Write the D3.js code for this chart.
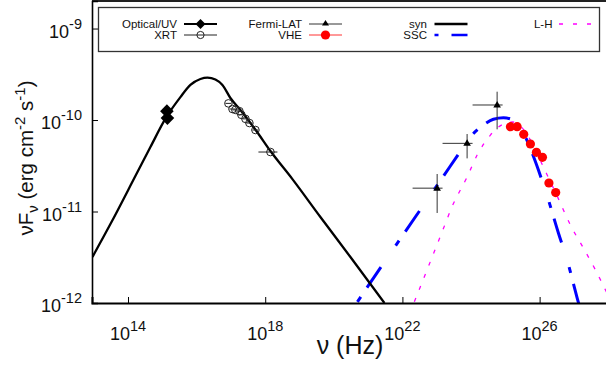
<!DOCTYPE html>
<html><head><meta charset="utf-8">
<script src="https://cdn.jsdelivr.net/npm/d3@7"></script>
<style>body{margin:0;background:#fff}svg{display:block}text{font-family:"Liberation Sans",Arial,sans-serif}</style>
</head><body><svg id="c" width="606" height="365"></svg>
<script>
// ---- data ----
const xTicks = [1e14, 1e18, 1e22, 1e26];
const xTickExp = ["14", "18", "22", "26"];
const yTicks = [1e-12, 1e-11, 1e-10, 1e-9];
const yTickExp = ["-12", "-11", "-10", "-9"];

const optNu = [1.36e15, 1.41e15];
const optF  = [1.25e-10, 1.05e-10];

const xrtNu   = [8.45e16, 1.11e17, 1.35e17, 1.77e17, 2.02e17, 2.65e17, 3.46e17, 5.18e17, 1.42e18];
const xrtNuLo = [6.9e16, 9.1e16, 1.11e17, 1.45e17, 1.66e17, 2.17e17, 2.84e17, 4.25e17, 6.34e17];
const xrtNuHi = [1.03e17, 1.35e17, 1.65e17, 2.16e17, 2.46e17, 3.23e17, 4.22e17, 6.32e17, 2.27e18];
const xrtF    = [1.52e-10, 1.32e-10, 1.29e-10, 1.25e-10, 1.14e-10, 1.03e-10, 9.27e-11, 7.78e-11, 4.47e-11];

const latNu   = [1.03e23, 7.69e23, 5.77e24];
const latNuLo = [1.98e22, 1.48e23, 1.11e24];
const latNuHi = [1.48e23, 1.11e24, 8.34e24];
const latF    = [1.80e-11, 5.56e-11, 1.46e-10];
const latFLo  = [9.64e-12, 3.81e-11, 7.91e-11];
const latFHi  = [2.57e-11, 7.03e-11, 2.04e-10];

const vheNu = [1.41e25, 2.21e25, 3.44e25, 5.40e25, 8.07e25, 1.21e26, 1.87e26, 2.94e26];
const vheF  = [8.45e-11, 8.45e-11, 6.98e-11, 5.47e-11, 4.44e-11, 3.91e-11, 2.05e-11, 1.61e-11];

const synNu = [9.16e12, 3.07e13, 1.64e14, 4.50e14, 1.32e15, 3.37e15, 6.59e15, 1.29e16, 2.07e16, 3.53e16, 5.65e16, 9.66e16, 1.89e17, 5.53e17, 1.42e18, 6.21e18, 4.06e19, 3.05e20, 2.99e21];
const synF  = [3.18e-12, 7.29e-12, 2.44e-11, 5.07e-11, 1.08e-10, 1.78e-10, 2.42e-10, 2.81e-10, 2.91e-10, 2.77e-10, 2.42e-10, 1.74e-10, 1.29e-10, 7.59e-11, 4.58e-11, 2.26e-11, 8.71e-12, 3.18e-12, 1.0e-12];

const sscNu = [4.88e20, 2.28e21, 8.75e21, 3.35e22, 1.28e23, 4.91e23, 9.62e23, 2.30e24, 4.50e24, 8.81e24, 1.41e25, 2.25e25, 3.37e25, 6.04e25, 9.23e25, 1.66e26, 3.53e26, 6.34e26, 1.24e27, 1.55e27];
const sscF  = [1.03e-12, 2.42e-12, 5.05e-12, 1.05e-11, 2.18e-11, 4.54e-11, 6.55e-11, 8.81e-11, 1.02e-10, 1.06e-10, 1.03e-10, 9.04e-11, 7.21e-11, 4.36e-11, 2.84e-11, 1.48e-11, 5.82e-12, 2.95e-12, 1.14e-12, 8.4e-13];

const lhNu = [2.23e22, 5.35e22, 1.47e23, 2.86e23, 7.69e23, 1.51e24, 3.68e24, 8.81e24, 1.61e25, 2.75e25, 5.40e25, 1.29e26, 3.24e26, 7.91e26, 1.89e27, 4.24e27, 8.87e27];
const lhF  = [1.03e-12, 2.35e-12, 6.12e-12, 1.15e-11, 2.38e-11, 4.14e-11, 6.85e-11, 9.04e-11, 9.51e-11, 8.59e-11, 6.04e-11, 3.06e-11, 1.48e-11, 7.11e-12, 3.99e-12, 2.30e-12, 1.32e-12];

// ---- layout ----
const L = 92, R = 606.5, T = 1, B = 303;
const svg = d3.select("#c");
const x = d3.scaleLog().domain([Math.pow(10, 12.95), Math.pow(10, 27.95)]).range([L, R]);
const y = d3.scaleLog().domain([1e-12, 2e-9]).range([B, T]);

svg.append("defs").append("clipPath").attr("id", "clip")
  .append("rect").attr("x", L).attr("y", T).attr("width", R - L).attr("height", B - T);
const plot = svg.append("g").attr("clip-path", "url(#clip)");

// curves
const line = d3.line().x(d => x(d[0])).y(d => y(d[1])).curve(d3.curveMonotoneX);
const zip = (a, b) => a.map((v, i) => [v, b[i]]);
plot.append("path").attr("d", line(zip(lhNu, lhF))).attr("fill", "none")
  .attr("stroke", "#ff00ff").attr("stroke-width", 1.3).attr("stroke-dasharray", "4,9");
plot.append("path").attr("d", line(zip(sscNu, sscF))).attr("fill", "none")
  .attr("stroke", "#0000ff").attr("stroke-width", 3).attr("stroke-dasharray", "6,11,25,26");
plot.append("path").attr("d", line(zip(synNu, synF))).attr("fill", "none")
  .attr("stroke", "#000").attr("stroke-width", 2.3);

// XRT
const xrt = plot.append("g");
xrtNu.forEach((v, i) => {
  xrt.append("line").attr("x1", x(xrtNuLo[i])).attr("x2", x(xrtNuHi[i]))
    .attr("y1", y(xrtF[i])).attr("y2", y(xrtF[i])).attr("stroke", "#222").attr("stroke-width", 1);
  xrt.append("circle").attr("cx", x(v)).attr("cy", y(xrtF[i])).attr("r", 3.8)
    .attr("fill", "none").attr("stroke", "#222").attr("stroke-width", 1);
});
// optical
const diamond = (cx, cy, s) => `M${cx},${cy - s}L${cx + s},${cy}L${cx},${cy + s}L${cx - s},${cy}Z`;
optNu.forEach((v, i) => {
  plot.append("path").attr("d", diamond(x(v), y(optF[i]), 6.8)).attr("fill", "#000");
});
// Fermi-LAT
latNu.forEach((v, i) => {
  plot.append("line").attr("x1", x(latNuLo[i])).attr("x2", x(latNuHi[i]))
    .attr("y1", y(latF[i])).attr("y2", y(latF[i])).attr("stroke", "#333").attr("stroke-width", 1);
  plot.append("line").attr("x1", x(v)).attr("x2", x(v))
    .attr("y1", y(latFLo[i])).attr("y2", y(latFHi[i])).attr("stroke", "#333").attr("stroke-width", 1);
  const cx = x(v), cy = y(latF[i]);
  plot.append("path").attr("d", `M${cx},${cy - 4}L${cx + 3.8},${cy + 2.5}L${cx - 3.8},${cy + 2.5}Z`).attr("fill", "#000");
});
// VHE
vheNu.forEach((v, i) => {
  plot.append("circle").attr("cx", x(v)).attr("cy", y(vheF[i])).attr("r", 4.6).attr("fill", "#ff0000");
});

// frame
svg.append("line").attr("x1", L).attr("x2", 606).attr("y1", 1).attr("y2", 1).attr("stroke", "#222").attr("stroke-width", 2.2);

// axes
const xAxis = svg.append("g").attr("transform", `translate(0,${B})`)
  .call(d3.axisBottom(x).tickValues(xTicks).tickSize(-6).tickFormat(""));
xAxis.select(".domain").attr("stroke", "#000").attr("stroke-width", 2);
xAxis.selectAll(".tick line").attr("stroke", "#000");
const yAxis = svg.append("g").attr("transform", `translate(${L},0)`)
  .call(d3.axisLeft(y).tickValues(yTicks).tickSize(-6).tickFormat(""));
yAxis.select(".domain").attr("stroke", "#000").attr("stroke-width", 1.6);
yAxis.selectAll(".tick line").attr("stroke", "#000");

xTicks.forEach((t, i) => {
  const tx = svg.append("text").attr("x", x(t)).attr("y", 340).attr("text-anchor", "middle")
    .attr("font-size", 18).attr("fill", "#111");
  tx.append("tspan").text("10");
  tx.append("tspan").attr("font-size", 14.5).attr("dy", -9).text(xTickExp[i]);
});
yTicks.forEach((t, i) => {
  const tx = svg.append("text").attr("x", 82).attr("y", y(t) + 9).attr("text-anchor", "end")
    .attr("font-size", 18).attr("fill", "#111");
  tx.append("tspan").text("10");
  tx.append("tspan").attr("font-size", 14.5).attr("dy", -9).text(yTickExp[i]);
});

// axis titles
svg.append("text").attr("x", 350).attr("y", 354).attr("text-anchor", "middle")
  .attr("font-size", 25).attr("fill", "#111").text("ν (Hz)");
const yt = svg.append("text").attr("transform", "translate(33,158) rotate(-90)")
  .attr("text-anchor", "middle").attr("font-size", 20.5).attr("fill", "#111");
yt.append("tspan").text("νF");
yt.append("tspan").attr("font-size", 15).attr("dy", 5).text("ν");
yt.append("tspan").attr("dy", -5).text(" (erg cm");
yt.append("tspan").attr("font-size", 15).attr("dy", -8).text("-2");
yt.append("tspan").attr("dy", 8).text(" s");
yt.append("tspan").attr("font-size", 15).attr("dy", -8).text("-1");
yt.append("tspan").attr("dy", 8).text(")");

// legend
const lg = svg.append("g");
lg.append("rect").attr("x", 98.5).attr("y", 7.5).attr("width", 501).attr("height", 44)
  .attr("fill", "#fff").attr("stroke", "#333").attr("stroke-width", 1.3);
const items = [
  {label: "Optical/UV", tx: 177, x1: 184, row: 0, kind: "opt"},
  {label: "XRT", tx: 177, x1: 184, row: 1, kind: "xrt"},
  {label: "Fermi-LAT", tx: 302, x1: 309, row: 0, kind: "lat"},
  {label: "VHE", tx: 302, x1: 309, row: 1, kind: "vhe"},
  {label: "syn", tx: 427, x1: 434.5, row: 0, kind: "syn"},
  {label: "SSC", tx: 427, x1: 434.5, row: 1, kind: "ssc"},
  {label: "L-H", tx: 552.5, x1: 559, row: 0, kind: "lh"}
];
items.forEach(it => {
  const ly = it.row === 0 ? 24 : 35;
  lg.append("text").attr("x", it.tx).attr("y", ly + 4).attr("text-anchor", "end")
    .attr("font-size", 11.5).attr("fill", "#111").text(it.label);
  const x2 = it.x1 + 33, cx = it.x1 + 16.5;
  const ln = lg.append("line").attr("x1", it.x1).attr("x2", x2).attr("y1", ly).attr("y2", ly).attr("fill", "none");
  if (it.kind === "opt") { ln.attr("stroke", "#000").attr("stroke-width", 2.2);
    lg.append("path").attr("d", diamond(cx, ly, 5)).attr("fill", "#000"); }
  if (it.kind === "xrt") { ln.attr("stroke", "#222").attr("stroke-width", 1);
    lg.append("circle").attr("cx", cx).attr("cy", ly).attr("r", 3.6).attr("fill", "none").attr("stroke", "#222"); }
  if (it.kind === "lat") { ln.attr("stroke", "#333").attr("stroke-width", 1);
    lg.append("path").attr("d", `M${cx},${ly - 4}L${cx + 3.5},${ly + 1.5}L${cx - 3.5},${ly + 1.5}Z`).attr("fill", "#000"); }
  if (it.kind === "vhe") { ln.attr("stroke", "#ff3333").attr("stroke-width", 1);
    lg.append("circle").attr("cx", cx).attr("cy", ly).attr("r", 4.6).attr("fill", "#ff0000"); }
  if (it.kind === "syn") ln.attr("stroke", "#000").attr("stroke-width", 2.5);
  if (it.kind === "ssc") ln.attr("stroke", "#0000ff").attr("stroke-width", 2.5).attr("stroke-dasharray", "4,13,25,26");
  if (it.kind === "lh") ln.attr("stroke", "#ff00ff").attr("stroke-width", 1.3).attr("stroke-dasharray", "4,10");
});
</script></body></html>
